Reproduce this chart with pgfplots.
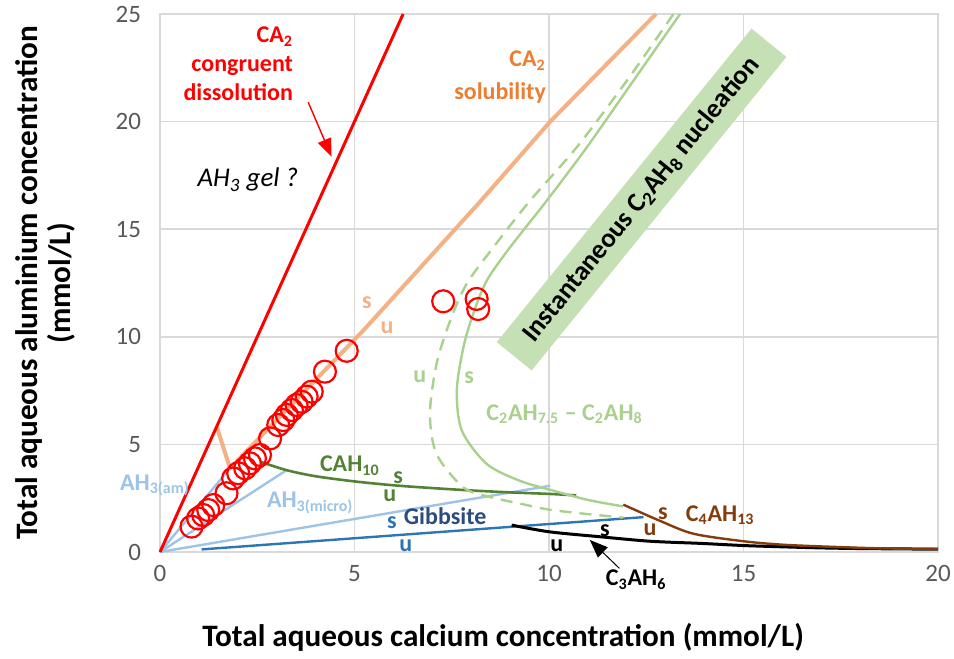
\documentclass[border=0pt]{standalone}
\usepackage{fontspec}
\setmainfont{Carlito}
\usepackage{pgfplots}
\pgfplotsset{compat=1.18}
\usetikzlibrary{arrows.meta}
\definecolor{redc}{HTML}{FF0000}
\definecolor{orangeline}{HTML}{F4B183}
\definecolor{orangetext}{HTML}{ED7D31}
\definecolor{darkgreen}{HTML}{548235}
\definecolor{lightgreen}{HTML}{A9D18E}
\definecolor{boxgreen}{HTML}{C5E0B4}
\definecolor{lightblue}{HTML}{9DC3E6}
\definecolor{midblue}{HTML}{2E75B6}
\definecolor{navy}{HTML}{2B4C7E}
\definecolor{brownc}{HTML}{843C0C}
\definecolor{gridgray}{HTML}{D9D9D9}
\definecolor{ticktext}{HTML}{595959}
\tikzset{lab/.style={font=\fontsize{12}{14.5}\selectfont\bfseries},
         albl/.style={font=\fontsize{15.6}{18}\selectfont\bfseries}}
\begin{document}
\begin{tikzpicture}
\useasboundingbox (-80pt,-53.5pt) rectangle (397pt,276pt);
\begin{axis}[
  at={(0pt,0pt)}, anchor=south west,
  scale only axis, width=389pt, height=269pt,
  xmin=0, xmax=20, ymin=0, ymax=25,
  xtick={0,5,...,20}, ytick={0,5,...,25},
  grid=major, grid style={gridgray, line width=0.75pt},
  axis line style={gridgray, line width=0.75pt},
  major tick length=0pt,
  tick label style={font=\fontsize{12.5}{14}\selectfont, text=ticktext},
  /pgf/number format/assume math mode=true,
  xticklabel style={yshift=-3pt},
  yticklabel style={xshift=-6pt},
  clip=false,
]
% light blue AH3 lines
\addplot[lightblue, line width=1.2pt] coordinates {(0,0) (1.8,3.89)};
\addplot[lightblue, line width=1.2pt] coordinates {(0,0) (3.26,3.81)};
\addplot[lightblue, line width=1.2pt] coordinates {(0,0) (10.03,3.08)};
% Gibbsite u
\addplot[midblue, line width=1.2pt] coordinates {(1.07,0.12) (12.43,1.62)};
% CAH10
\addplot[darkgreen, line width=1.3pt, smooth] coordinates {(2.57,4.2) (3.26,3.80) (4.0,3.52) (5.0,3.28) (6.0,3.1) (7.0,2.97) (8.0,2.86) (9.0,2.77) (10.0,2.7) (10.7,2.63)};
% C2AH7.5 - C2AH8 stable
\addplot[lightgreen, line width=1.2pt, smooth] coordinates {(13.37,25) (12.17,21.9) (10.97,18.8) (9.94,16.32) (9.0,14.16) (8.40,12.61) (8.05,11.06) (7.80,9.51) (7.63,7.50) (7.76,5.64) (8.40,4.09) (9.25,3.31) (10.11,2.85) (11.0,2.42) (11.9,2.12)};
% unstable (dashed)
\addplot[lightgreen, line width=1.2pt, smooth, dash pattern=on 6pt off 4pt] coordinates {(13.2,25) (12.0,21.9) (10.71,18.8) (9.51,16.32) (8.57,14.16) (7.88,12.45) (7.46,10.75) (7.11,8.74) (6.94,6.41) (7.11,4.55) (7.8,3.0) (8.5,2.55) (9.25,2.25) (10.0,1.97) (10.9,1.78) (11.9,1.6)};
% C3AH6
\addplot[black, line width=1.5pt, smooth] coordinates {(9.04,1.25) (10,0.94) (11.3,0.71) (12.6,0.5) (13.9,0.4) (15,0.3) (16,0.24) (17,0.19) (18,0.16) (20,0.13)};
% C4AH13
\addplot[brownc, line width=1.2pt, smooth] coordinates {(11.91,2.2) (12.85,1.45) (13.71,0.85) (15.0,0.5) (16,0.34) (17.14,0.25) (18.5,0.17) (20,0.14)};
% CA2 solubility
\addplot[orangeline, line width=2pt] coordinates {(1.46,5.82) (1.8,3.89)};
\addplot[orangeline, line width=2pt] coordinates {(1.8,3.89) (5.23,10.3) (8.23,16.28) (10.03,20) (12.75,25)};
% CA2 congruent dissolution
\addplot[redc, line width=1.5pt] coordinates {(0,0) (6.25,25)};
% measurements
\addplot[only marks, mark=o, mark size=5.5pt, redc, mark options={line width=1.1pt}] coordinates {
(0.81,1.18) (0.98,1.56) (1.11,1.72) (1.24,1.95) (1.37,2.18) (1.71,2.73) (1.88,3.42) (2.01,3.66) (2.19,3.89) (2.31,4.12) (2.44,4.35) (2.57,4.51) (2.83,5.28) (3.04,5.90) (3.17,6.13) (3.26,6.37) (3.39,6.60) (3.51,6.83) (3.64,6.98) (3.77,7.22) (3.90,7.45) (4.24,8.38) (4.80,9.35) (7.28,11.65) (8.14,11.76) (8.18,11.29)};

% annotations
\node[lab, text=redc, align=right, anchor=east] at (axis cs:3.6,22.68) {CA\textsubscript{2}\\congruent\\dissolution};
\draw[redc, line width=0.7pt, -{Triangle[length=9pt,width=7pt]}] (axis cs:3.81,20.9) -- (axis cs:4.41,18.37);
\node[font=\fontsize{13.5}{15}\selectfont\itshape] at (axis cs:2.26,17.29) {AH\textsubscript{3} gel ?};
\node[lab, text=orangetext, align=right, anchor=east] at (axis cs:10.1,22.05) {CA\textsubscript{2}\\[2pt]solubility};
\node[lab, text=orangeline] at (axis cs:5.32,11.6) {s};
\node[lab, text=orangeline] at (axis cs:5.84,10.4) {u};
\node[font=\fontsize{13.5}{15}\selectfont\bfseries, rotate=50.9, fill=boxgreen, minimum width=202pt, minimum height=22.5pt, inner sep=0pt] at (axis cs:12.38,16.38) {Instantaneous C\textsubscript{2}AH\textsubscript{8} nucleation};
\node[lab, text=lightgreen] at (axis cs:6.68,8.12) {u};
\node[lab, text=lightgreen] at (axis cs:7.95,8.12) {s};
\node[lab, text=lightgreen] at (axis cs:10.4,6.41) {C\textsubscript{2}AH\textsubscript{7.5} -- C\textsubscript{2}AH\textsubscript{8}};
\node[lab, text=darkgreen] at (axis cs:4.88,4.0) {CAH\textsubscript{10}};
\node[lab, text=darkgreen] at (axis cs:6.12,3.44) {s};
\node[lab, text=darkgreen] at (axis cs:5.91,2.6) {u};
\node[lab, text=lightblue] at (axis cs:-0.13,3.1) {AH\textsubscript{3(am)}};
\node[lab, text=lightblue] at (axis cs:3.86,2.28) {AH\textsubscript{3(micro)}};
\node[lab, text=navy] at (axis cs:7.33,1.67) {Gibbsite};
\node[lab, text=midblue] at (axis cs:5.96,1.35) {s};
\node[lab, text=midblue] at (axis cs:6.32,0.28) {u};
\node[lab, text=black] at (axis cs:11.44,0.98) {s};
\node[lab, text=black] at (axis cs:10.2,0.28) {u};
\node[lab, text=black] at (axis cs:12.24,-1.3) {C\textsubscript{3}AH\textsubscript{6}};
\draw[black, line width=0.5pt, -{Triangle[length=9pt,width=7pt]}] (axis cs:11.81,-0.76) -- (axis cs:11.05,0.56);
\node[lab, text=brownc] at (axis cs:12.93,1.77) {s};
\node[lab, text=brownc] at (axis cs:12.6,1.02) {u};
\node[lab, text=brownc] at (axis cs:14.4,1.72) {C\textsubscript{4}AH\textsubscript{13}};
% axis labels
\node[albl] at (axis cs:8.82,-3.95) {Total aqueous calcium concentration (mmol/L)};
\node[albl, rotate=90] at (axis cs:-3.36,12.5) {Total aqueous aluminium concentration};
\node[albl, rotate=90] at (axis cs:-2.55,12.5) {(mmol/L)};
\end{axis}
\end{tikzpicture}
\end{document}
